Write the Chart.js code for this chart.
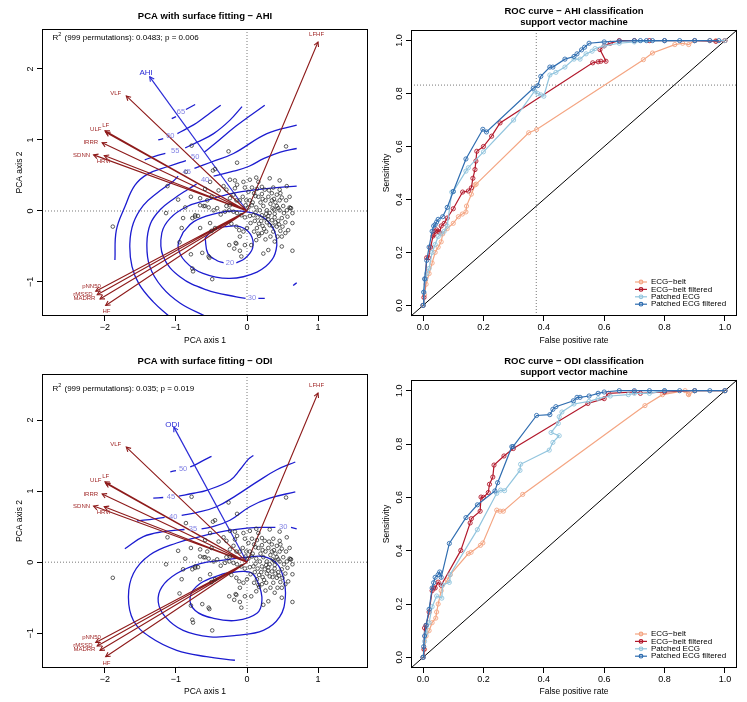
<!DOCTYPE html>
<html>
<head>
<meta charset="utf-8">
<title>PCA surface fitting and ROC curves</title>
<script src="https://cdn.jsdelivr.net/npm/chart.js@4.4.1/dist/chart.umd.min.js"></script>
<style>
  body { margin: 0; background: #fff; }
  .cell { position: absolute; }
  .cell canvas { display: block; }
</style>
</head>
<body>
<div class="cell" style="left:0;top:0"><canvas id="pcaAhi" width="373" height="351"></canvas></div>
<div class="cell" style="left:373px;top:0"><canvas id="rocAhi" width="374" height="351"></canvas></div>
<div class="cell" style="left:0;top:351px"><canvas id="pcaOdi" width="373" height="351"></canvas></div>
<div class="cell" style="left:373px;top:351px"><canvas id="rocOdi" width="374" height="351"></canvas></div>
<script>
const FONT = "'Liberation Sans', Arial, Helvetica, sans-serif";

// ---- PCA: site scores (same ordination in both panels) ----
const siteScores = [
  [-0.05,0.41],[-0.03,0.33],[0.02,0.27],[0.07,0.33],[0.10,0.25],[0.14,0.31],[0.16,0.20],[0.21,0.24],
  [0.25,0.30],[0.30,0.20],[0.35,0.25],[0.38,0.17],[0.42,0.23],[0.46,0.15],[0.49,0.19],[0.55,0.15],
  [0.60,0.05],[0.62,0.04],[0.56,0.01],[0.51,0.07],[0.46,0.01],[0.42,0.07],[0.36,0.04],[0.32,-0.03],
  [0.28,0.01],[0.23,0.07],[0.18,0.01],[0.13,0.05],[0.07,0.08],[0.04,0.15],[-0.01,0.15],[-0.06,0.20],
  [-0.10,0.15],[-0.15,0.15],[-0.19,0.23],[-0.24,0.18],[-0.29,0.07],[-0.25,0.01],[-0.19,-0.01],[-0.14,-0.03],
  [-0.08,-0.06],[-0.03,-0.09],[0.04,-0.07],[0.09,-0.06],[0.15,-0.09],[0.21,-0.06],[0.25,-0.10],[0.30,-0.07],
  [0.35,-0.13],[0.39,-0.09],[0.44,-0.14],[0.49,-0.10],[0.54,-0.16],[0.57,-0.08],[0.32,-0.20],[0.28,-0.16],
  [0.22,-0.21],[0.17,-0.18],[0.42,-0.22],[0.47,-0.28],[0.37,-0.29],[0.27,-0.29],[0.21,-0.31],[0.14,-0.24],
  [0.10,-0.29],[0.00,-0.24],[-0.05,-0.29],[-0.11,-0.27],[-0.15,-0.22],[-0.22,-0.18],[0.54,-0.31],[0.43,-0.36],
  [0.33,-0.36],[0.13,-0.41],[0.06,-0.48],[-0.03,-0.48],[-0.15,-0.46],[-0.10,-0.56],[-0.18,-0.53],[0.30,-0.55],
  [0.49,-0.50],[-0.24,0.08],[-0.31,-0.01],[-0.37,-0.05],[-0.42,0.04],[-0.47,0.01],[-0.59,0.07],[-0.69,-0.07],
  [-0.73,-0.06],[0.46,0.30],[0.56,0.35],[0.37,0.33],[0.21,0.34],[0.16,0.41],[0.04,0.44],[-0.14,0.37],
  [-0.17,0.32],[-0.29,0.30],[-0.33,0.35],[-0.40,0.29],[-0.50,0.20],[-0.56,0.15],[-0.66,0.18],
  [0.55,0.91],[-0.26,0.84],[-0.78,0.92],[-0.14,0.68],[-0.45,0.59],[-0.24,0.44],[-0.17,0.43],[0.13,0.47],
  [0.32,0.46],[0.46,0.43],[-0.52,0.41],[-1.12,0.35],[-0.97,0.16],[-0.79,0.20],[-0.59,0.31],[-1.14,-0.03],
  [-0.87,0.05],[-0.61,0.07],[-0.54,0.05],[-0.90,-0.10],[-0.77,-0.10],[-0.92,-0.24],[-0.52,-0.17],[-0.50,-0.28],
  [-0.95,-0.44],[-0.79,-0.61],[-0.63,-0.59],[-0.53,-0.66],[-0.77,-0.81],[-0.76,-0.85],[-0.49,-0.96],[-0.25,-0.48],
  [-0.10,-0.36],[-0.08,-0.64],[0.23,-0.60],[0.16,-0.32],[0.39,-0.43],[0.49,-0.36],[0.64,-0.56],[0.64,-0.17],
  [0.61,0.04],[-1.89,-0.22],[-0.66,0.08],[-0.73,-0.08],[-0.66,-0.24],[-0.45,-0.24],[-0.54,-0.64],[-0.16,-0.45],
  [-0.86,0.55],[-0.48,0.57],
  [0.08,0.12],[0.12,-0.02],[0.19,0.12],[0.26,0.15],[0.33,0.10],[0.40,0.12],[0.44,0.04],[0.52,-0.03],
  [0.39,-0.04],[0.27,-0.04],[0.20,-0.14],[0.30,-0.12],[0.45,-0.19],[0.36,-0.21],[0.50,-0.22],[0.58,-0.27],
  [0.11,-0.14],[0.05,-0.17],[0.02,0.05],[0.35,0.15],[0.22,0.17],[0.47,0.25],[0.60,0.20],[0.64,-0.03],
  [0.40,-0.16],[0.31,0.29],[0.12,0.21],[-0.02,0.08],[0.17,-0.35],[0.26,-0.40],[0.24,-0.25],[0.38,0.02]
];

// HRV variable vectors (envfit arrows)
const vectorNames = ['LFHF', 'VLF', 'LF', 'ULF', 'IRRR', 'SDNN', 'HRVi', 'pNN50', 'rMSSD', 'MADRR', 'HF'];
const vectorAxis1 = [1.00, -1.70, -2.00, -1.99, -2.04, -2.16, -2.01, -2.13, -2.11, -2.07, -1.99];
const vectorAxis2 = [2.38, 1.62, 1.13, 1.11, 0.96, 0.79, 0.78, -1.13, -1.18, -1.24, -1.33];
const vectorLabelAxis1 = [0.98, -1.85, -1.99, -2.13, -2.20, -2.33, -2.02, -2.19, -2.31, -2.29, -1.98];
const vectorLabelAxis2 = [2.49, 1.66, 1.21, 1.15, 0.96, 0.79, 0.70, -1.06, -1.17, -1.23, -1.42];

// fitted outcome direction and its label spot
const ahiVector = [-1.37, 1.89];
const ahiVectorLabel = [-1.42, 1.95];
const odiVector = [-1.03, 1.90];
const odiVectorLabel = [-1.05, 1.94];

// ordisurf contours (null = gap left for the level label)
const ahiContourLevels = ['65', '60', '55', '50', '45', '40', '30', '', '20', ''];
const ahiContourLabelAt = [[-0.93, 1.39], [-1.08, 1.05], [-1.01, 0.84], [-0.73, 0.76], [-0.85, 0.55],
  [-0.59, 0.44], [0.07, -1.23], null, [-0.24, -0.73], null];
const ahiContourPaths = [
  [[-1.06,1.30],[-1.00,1.33],null,[-0.86,1.43],[-0.73,1.50]],
  [[-1.25,1.00],[-1.18,1.02],null,[-0.98,1.09],[-0.85,1.16],[-0.71,1.24],[-0.52,1.38],[-0.37,1.49]],
  [[-1.44,0.72],[-1.30,0.77],[-1.15,0.81],null,[-0.87,0.89],[-0.70,0.97],[-0.47,1.09],[-0.24,1.28],[-0.07,1.47]],
  [[-1.86,-0.69],[-1.84,-0.27],[-1.72,0.06],[-1.58,0.36],[-1.40,0.52],[-1.10,0.63],[-0.86,0.71],null,
   [-0.60,0.83],[-0.45,0.95],[-0.15,1.20],[0.25,1.49]],
  [[-1.10,-1.48],[-1.32,-1.28],[-1.52,-1.03],[-1.62,-0.78],[-1.65,-0.46],[-1.60,-0.17],[-1.46,0.08],[-1.27,0.25],
   [-1.04,0.42],[-0.97,0.49],null,[-0.74,0.60],[-0.50,0.69],[-0.19,0.81],[0.28,1.09],[0.70,1.21]],
  [[-0.59,-1.48],[-0.94,-1.30],[-1.20,-1.07],[-1.37,-0.78],[-1.41,-0.46],[-1.36,-0.18],[-1.22,0.02],[-1.02,0.18],
   [-0.84,0.30],[-0.71,0.38],null,[-0.47,0.49],[-0.19,0.56],[0.03,0.63],[0.24,0.74],[0.47,0.83],[0.70,0.88]],
  [[0.25,-1.23],[0.16,-1.23],null,[-0.02,-1.23],[-0.15,-1.21],[-0.57,-1.11],[-0.94,-0.93],[-1.18,-0.64],
   [-1.20,-0.31],[-1.08,-0.10],[-0.85,0.06],[-0.57,0.15],[-0.19,0.25],[0.14,0.30],[0.42,0.33],[0.70,0.35]],
  [[-0.90,-0.30],[-0.97,-0.50],[-0.87,-0.71],[-0.62,-0.88],[-0.24,-0.95],[0.14,-0.86],[0.35,-0.69],[0.42,-0.48],
   [0.39,-0.29],[0.28,-0.13],[0.09,-0.03],[-0.20,0.00],[-0.50,-0.05],[-0.75,-0.15],[-0.90,-0.30]],
  [[-0.59,-0.38],[-0.55,-0.60],[-0.42,-0.70],[-0.33,-0.73],null,[-0.15,-0.73],[-0.03,-0.67],[0.08,-0.52],
   [0.05,-0.33],[-0.10,-0.22],[-0.30,-0.22],[-0.48,-0.27],[-0.59,-0.38]],
  [[0.65,-1.05],[0.70,-1.01]]
];

const odiContourLevels = ['50', '45', '40', '35', '30', '', '', ''];
const odiContourLabelAt = [[-0.90, 1.31], [-1.07, 0.92], [-1.04, 0.64], [-0.76, 0.47], [0.51, 0.50], null, null, null];
const odiContourPaths = [
  [[-1.08,1.27],[-1.00,1.29],null,[-0.80,1.34],[-0.73,1.37],[-0.60,1.44],[-0.50,1.49]],
  [[-1.32,0.90],[-1.18,0.91],null,[-0.96,0.93],[-0.75,0.97],[-0.57,1.01],[-0.24,1.15],[-0.10,1.30],[0.02,1.45],[0.09,1.50]],
  [[-1.55,0.58],[-1.30,0.61],[-1.16,0.63],null,[-0.92,0.66],[-0.70,0.70],[-0.43,0.78],[-0.15,0.94],[0.14,1.13],
   [0.42,1.30],[0.68,1.41]],
  [[-1.72,0.19],[-1.46,0.36],[-1.18,0.43],[-0.88,0.46],null,[-0.64,0.47],[-0.52,0.49],[-0.24,0.59],[0.04,0.78],
   [0.32,0.90],[0.68,0.99]],
  [[0.70,0.47],[0.62,0.49],null,[0.40,0.49],[0.30,0.49],[0.00,0.48],[-0.30,0.44],[-0.66,0.36],[-0.99,0.27],
   [-1.37,0.10],[-1.60,-0.16],[-1.67,-0.49],[-1.60,-0.82],[-1.37,-1.05],[-0.99,-1.24],[-0.57,-1.33],[-0.17,-1.38]],
  [[-0.33,0.03],[-0.66,-0.02],[-0.99,-0.16],[-1.20,-0.35],[-1.25,-0.56],[-1.15,-0.77],[-0.90,-0.96],[-0.52,-1.05],
   [-0.15,-1.03],[0.23,-0.96],[0.46,-0.77],[0.54,-0.49],[0.51,-0.21],[0.42,-0.02],[0.23,0.08],[0.00,0.07],[-0.33,0.03]],
  [[-0.33,-0.16],[-0.66,-0.30],[-0.80,-0.49],[-0.73,-0.68],[-0.47,-0.79],[-0.15,-0.82],[0.14,-0.72],[0.21,-0.54],
   [0.16,-0.30],[0.04,-0.14],[-0.33,-0.16]],
  [[-1.00,-1.49],[-0.95,-1.48]]
];

const pcaTicks = [-2, -1, 0, 1, 2];

// ---- ROC curves ----
const rocTicks = [0, 0.2, 0.4, 0.6, 0.8, 1];
const rocLabels = ['ECG\u2212belt', 'ECG\u2212belt filtered', 'Patched ECG', 'Patched ECG filtered'];
const rocColors = ['#F4A582', '#B2182B', '#92C5DE', '#2F6DB0'];

// AHI classification
const ahiBeltFpr = [0,0.005,0.01,0.02,0.03,0.04,0.05,0.06,0.065,0.08,0.1,0.117,0.13,0.142,0.144,0.16,0.172,0.176,0.35,0.376,0.73,0.76,0.834,0.86,0.88,0.9,0.95,0.97,1];
const ahiBeltTpr = [0,0.04,0.08,0.12,0.16,0.2,0.22,0.24,0.27,0.29,0.31,0.335,0.345,0.353,0.375,0.42,0.455,0.458,0.652,0.664,0.928,0.953,0.985,0.99,0.985,1,1,1,1];
const ahiBeltFiltFpr = [0,0.003,0.008,0.012,0.018,0.025,0.033,0.036,0.04,0.045,0.05,0.055,0.06,0.07,0.08,0.1,0.131,0.15,0.16,0.165,0.172,0.175,0.178,0.2,0.227,0.255,0.562,0.58,0.589,0.606,0.586,0.6,0.62,0.65,0.7,0.75,0.8,0.9,0.97,1];
const ahiBeltFiltTpr = [0,0.03,0.1,0.18,0.18,0.22,0.262,0.268,0.28,0.285,0.28,0.275,0.3,0.31,0.33,0.365,0.428,0.432,0.444,0.48,0.513,0.545,0.582,0.6,0.639,0.689,0.916,0.92,0.922,0.922,0.966,0.98,0.99,1,1,1,1,1,0.997,1];
const ahiPatchFpr = [0,0.003,0.008,0.012,0.02,0.03,0.04,0.05,0.06,0.07,0.08,0.095,0.1,0.142,0.15,0.2,0.3,0.37,0.38,0.39,0.4,0.42,0.44,0.47,0.5,0.52,0.54,0.56,0.57,0.6,0.65,0.7,0.8,0.9,1];
const ahiPatchTpr = [0,0.05,0.1,0.12,0.14,0.2,0.23,0.26,0.27,0.28,0.3,0.428,0.43,0.507,0.52,0.58,0.7,0.81,0.8,0.795,0.79,0.87,0.88,0.9,0.93,0.93,0.95,0.96,0.97,0.98,0.99,0.995,1,1,1];
const ahiPatchFiltFpr = [0,0.002,0.005,0.012,0.02,0.03,0.035,0.04,0.045,0.05,0.065,0.08,0.1,0.142,0.198,0.21,0.365,0.38,0.39,0.42,0.43,0.47,0.5,0.51,0.525,0.535,0.55,0.6,0.65,0.7,0.72,0.74,0.76,0.8,0.85,0.9,0.95,0.98];
const ahiPatchFiltTpr = [0,0.05,0.1,0.17,0.22,0.28,0.3,0.305,0.315,0.325,0.335,0.37,0.43,0.553,0.665,0.655,0.82,0.83,0.865,0.9,0.9,0.93,0.94,0.95,0.965,0.975,0.99,0.995,0.998,1,1,1,1,1,1,1,1,1];
const ahiCutoff = [0.375, 0.832]; // chosen operating point (fpr, sensitivity)

// ODI classification
const odiBeltFpr = [0,0.005,0.01,0.02,0.03,0.042,0.045,0.05,0.06,0.08,0.09,0.15,0.159,0.19,0.198,0.244,0.255,0.266,0.33,0.735,0.793,0.868,0.879,0.88,0.9,1];
const odiBeltTpr = [0,0.03,0.08,0.1,0.13,0.147,0.17,0.2,0.25,0.29,0.31,0.389,0.394,0.42,0.429,0.552,0.548,0.548,0.611,0.944,0.985,1,0.987,0.985,1,1];
const odiBeltFiltFpr = [0,0.003,0.005,0.01,0.02,0.03,0.035,0.04,0.05,0.06,0.125,0.156,0.16,0.189,0.192,0.2,0.216,0.22,0.231,0.235,0.268,0.299,0.546,0.6,0.614,0.7,0.72,0.8,0.9,1];
const odiBeltFiltTpr = [0,0.03,0.11,0.12,0.17,0.25,0.26,0.26,0.282,0.27,0.401,0.504,0.52,0.548,0.601,0.6,0.618,0.649,0.676,0.721,0.755,0.783,0.952,0.97,0.99,0.995,0.99,0.995,1,1];
const odiPatchFpr = [0,0.005,0.01,0.02,0.03,0.045,0.062,0.065,0.087,0.089,0.18,0.244,0.257,0.27,0.321,0.323,0.418,0.43,0.451,0.424,0.448,0.451,0.46,0.5,0.55,0.58,0.62,0.68,0.7,0.75,0.8,0.9,1];
const odiPatchTpr = [0,0.06,0.09,0.13,0.19,0.23,0.222,0.272,0.281,0.31,0.479,0.615,0.627,0.625,0.701,0.724,0.777,0.806,0.831,0.843,0.877,0.902,0.92,0.95,0.96,0.97,0.98,0.985,0.99,0.99,1,1,1];
const odiPatchFiltFpr = [0,0.002,0.005,0.01,0.02,0.03,0.035,0.04,0.05,0.055,0.06,0.087,0.142,0.18,0.238,0.247,0.294,0.298,0.376,0.42,0.43,0.44,0.498,0.51,0.52,0.55,0.58,0.6,0.65,0.7,0.75,0.8,0.85,0.9,0.95,1];
const odiPatchFiltTpr = [0,0.04,0.08,0.12,0.18,0.26,0.28,0.3,0.31,0.32,0.3,0.427,0.524,0.572,0.624,0.655,0.79,0.79,0.907,0.91,0.93,0.94,0.962,0.975,0.975,0.98,0.99,0.995,1,1,1,1,1,1,1,1];

Chart.defaults.font.family = FONT;
Chart.defaults.color = '#000';

const toPoint = p => (p ? { x: p[0], y: p[1] } : { x: NaN, y: NaN });
const minusFmt = v => (v < 0 ? '\u2212' + Math.abs(v) : String(v));

function strokeLine(ctx, x1, y1, x2, y2) {
  ctx.beginPath(); ctx.moveTo(x1, y1); ctx.lineTo(x2, y2); ctx.stroke();
}

function drawFrame(ctx, a) {
  ctx.save();
  ctx.strokeStyle = '#000'; ctx.lineWidth = 1; ctx.setLineDash([]);
  ctx.strokeRect(Math.round(a.left) + 0.5, Math.round(a.top) + 0.5,
    Math.round(a.right - a.left) - 1, Math.round(a.bottom - a.top) - 1);
  ctx.restore();
}

function arrowHead(ctx, x0, y0, x1, y1) {
  const ang = Math.atan2(y1 - y0, x1 - x0), len = 5, spread = 0.5;
  ctx.beginPath();
  ctx.moveTo(x1 - len * Math.cos(ang - spread), y1 - len * Math.sin(ang - spread));
  ctx.lineTo(x1, y1);
  ctx.lineTo(x1 - len * Math.cos(ang + spread), y1 - len * Math.sin(ang + spread));
  ctx.stroke();
}

// axis builder: fixed sizes so the plot box lands where R put it
function makeAxis(o) {
  return {
    type: 'linear', min: o.min, max: o.max,
    afterBuildTicks: s => { s.ticks = o.ticks.filter(v => v >= o.min && v <= o.max).map(v => ({ value: v })); },
    afterFit: s => { if (o.axis === 'x') s.height = o.size; else s.width = o.size; },
    grid: { drawOnChartArea: false, drawTicks: true, tickLength: 5, color: '#000', lineWidth: 1 },
    border: { display: false },
    ticks: {
      autoSkip: false, color: '#000', font: { size: 9 }, padding: o.tickPad,
      minRotation: o.axis === 'y' ? 90 : 0, maxRotation: o.axis === 'y' ? 90 : 0,
      crossAlign: o.axis === 'y' ? 'center' : 'near',
      callback: o.format
    },
    title: {
      display: true, text: o.title, color: '#000', font: { size: 8.5 },
      padding: o.axis === 'y' ? { top: o.titlePad, bottom: 0 } : { top: 0, bottom: o.titlePad }
    }
  };
}

function pcaDecor(cfg) {
  return {
    id: 'pcaDecor',
    beforeDatasetsDraw(chart) {
      const { ctx, chartArea: a, scales: { x, y } } = chart;
      ctx.save();
      ctx.strokeStyle = '#555'; ctx.lineWidth = 0.8; ctx.setLineDash([1, 2]);
      const x0 = x.getPixelForValue(0), y0 = y.getPixelForValue(0);
      strokeLine(ctx, x0, a.top, x0, a.bottom);
      strokeLine(ctx, a.left, y0, a.right, y0);
      ctx.restore();
    },
    afterDatasetsDraw(chart) {
      const { ctx, chartArea: a, scales: { x, y } } = chart;
      const ox = x.getPixelForValue(0), oy = y.getPixelForValue(0);
      ctx.save();
      // arrow heads
      ctx.lineWidth = 1.1; ctx.strokeStyle = '#8E1B1B';
      vectorAxis1.forEach((v, i) => arrowHead(ctx, ox, oy, x.getPixelForValue(v), y.getPixelForValue(vectorAxis2[i])));
      ctx.strokeStyle = '#2B2BD6';
      arrowHead(ctx, ox, oy, x.getPixelForValue(cfg.fitted[0]), y.getPixelForValue(cfg.fitted[1]));
      // vector names
      ctx.textAlign = 'center'; ctx.textBaseline = 'middle';
      ctx.font = `6px ${FONT}`; ctx.fillStyle = '#A02828';
      vectorNames.forEach((n, i) => ctx.fillText(n, x.getPixelForValue(vectorLabelAxis1[i]), y.getPixelForValue(vectorLabelAxis2[i])));
      ctx.font = `8px ${FONT}`; ctx.fillStyle = '#2B2BD6';
      ctx.fillText(cfg.fittedName, x.getPixelForValue(cfg.fittedLabel[0]), y.getPixelForValue(cfg.fittedLabel[1]));
      // contour levels
      ctx.font = `7.5px ${FONT}`; ctx.fillStyle = '#8282E4';
      cfg.levels.forEach((lv, i) => {
        const p = cfg.labelAt[i];
        if (lv && p) ctx.fillText(lv, x.getPixelForValue(p[0]), y.getPixelForValue(p[1]));
      });
      // R2 annotation
      ctx.fillStyle = '#000'; ctx.textAlign = 'left';
      let tx = x.getPixelForValue(-2.74);
      const ty = y.getPixelForValue(2.44);
      ctx.font = `8px ${FONT}`;
      ctx.fillText('R', tx, ty); tx += ctx.measureText('R').width;
      ctx.font = `5.5px ${FONT}`;
      ctx.fillText('2', tx, ty - 3); tx += ctx.measureText('2').width + 1;
      ctx.font = `8px ${FONT}`;
      ctx.fillText(cfg.r2, tx, ty);
      ctx.restore();
      drawFrame(ctx, a);
    },
    afterDraw(chart) {
      const { ctx, chartArea: a } = chart;
      ctx.save();
      ctx.font = `bold 9.5px ${FONT}`; ctx.fillStyle = '#000';
      ctx.textAlign = 'center'; ctx.textBaseline = 'middle';
      ctx.fillText(cfg.title, (a.left + a.right) / 2, a.top - 13);
      ctx.restore();
    }
  };
}

function pcaChart(id, cfg) {
  const datasets = [];
  datasets.push({
    label: 'Sites', data: siteScores.map(toPoint), showLine: false, order: 0,
    pointRadius: 1.8, pointBorderWidth: 0.75, pointBorderColor: '#2a2a2a', pointBackgroundColor: 'rgba(0,0,0,0)'
  });
  const vec = [];
  vectorAxis1.forEach((v, i) => { vec.push({ x: 0, y: 0 }, { x: v, y: vectorAxis2[i] }, { x: NaN, y: NaN }); });
  datasets.push({ label: 'HRV vectors', data: vec, showLine: true, order: 1, pointRadius: 0, borderColor: '#8E1B1B', borderWidth: 1.1 });
  datasets.push({
    label: cfg.fittedName, data: [{ x: 0, y: 0 }, toPoint(cfg.fitted)], showLine: true, order: 1,
    pointRadius: 0, borderColor: '#2B2BD6', borderWidth: 1.2
  });
  cfg.paths.forEach((path, i) => {
    datasets.push({
      label: 'contour ' + (cfg.levels[i] || i), data: path.map(toPoint), showLine: true, order: 2,
      pointRadius: 0, borderColor: '#1C1CD0', borderWidth: 1.3, tension: 0.4, spanGaps: false
    });
  });
  return new Chart(document.getElementById(id), {
    type: 'scatter',
    data: { datasets },
    options: {
      responsive: false, animation: false, events: [],
      layout: { padding: { top: cfg.top, right: 5, bottom: 0, left: 0 } },
      plugins: { legend: { display: false }, tooltip: { enabled: false } },
      scales: {
        x: makeAxis({ axis: 'x', min: -2.887, max: 1.704, ticks: pcaTicks, size: cfg.xSize, tickPad: 1, format: minusFmt, title: 'PCA axis 1', titlePad: 5 }),
        y: makeAxis({ axis: 'y', min: cfg.ymin, max: cfg.ymax, ticks: pcaTicks, size: 42, tickPad: 1, format: minusFmt, title: 'PCA axis 2', titlePad: 14.5 })
      }
    },
    plugins: [pcaDecor(cfg)]
  });
}

function rocDecor(cfg) {
  return {
    id: 'rocDecor',
    beforeDatasetsDraw(chart) {
      const { ctx, chartArea: a, scales: { x, y } } = chart;
      ctx.save();
      ctx.strokeStyle = '#000'; ctx.lineWidth = 1;
      strokeLine(ctx, x.getPixelForValue(x.min), y.getPixelForValue(y.min), x.getPixelForValue(x.max), y.getPixelForValue(y.max));
      if (cfg.cutoff) {
        ctx.strokeStyle = '#555'; ctx.lineWidth = 0.8; ctx.setLineDash([1, 2]);
        const cx = x.getPixelForValue(cfg.cutoff[0]), cy = y.getPixelForValue(cfg.cutoff[1]);
        strokeLine(ctx, cx, a.top, cx, a.bottom);
        strokeLine(ctx, a.left, cy, a.right, cy);
      }
      ctx.restore();
    },
    afterDatasetsDraw(chart) {
      const { ctx, chartArea: a } = chart;
      ctx.save();
      const lx = a.right - 96, top = a.bottom - 34;
      ctx.font = `8px ${FONT}`; ctx.textAlign = 'left'; ctx.textBaseline = 'middle';
      rocLabels.forEach((lab, i) => {
        const yy = top + i * 7.4;
        ctx.strokeStyle = rocColors[i]; ctx.lineWidth = 1.2;
        strokeLine(ctx, lx - 6, yy, lx + 6, yy);
        ctx.beginPath(); ctx.arc(lx, yy, 1.8, 0, Math.PI * 2); ctx.stroke();
        ctx.fillStyle = '#000';
        ctx.fillText(lab, lx + 10, yy);
      });
      ctx.restore();
      drawFrame(ctx, a);
    },
    afterDraw(chart) {
      const { ctx, chartArea: a } = chart;
      ctx.save();
      ctx.font = `bold 9.5px ${FONT}`; ctx.fillStyle = '#000';
      ctx.textAlign = 'center'; ctx.textBaseline = 'middle';
      const cx = (a.left + a.right) / 2;
      ctx.fillText(cfg.title[0], cx, a.top - 19);
      ctx.fillText(cfg.title[1], cx, a.top - 7.5);
      ctx.restore();
    }
  };
}

function rocChart(id, cfg) {
  const datasets = cfg.series.map((s, i) => ({
    label: rocLabels[i], data: s[0].map((v, j) => ({ x: v, y: s[1][j] })),
    showLine: true, order: 4 - i, tension: 0,
    borderColor: rocColors[i], borderWidth: 1.2,
    pointRadius: 2.1, pointBorderWidth: 0.9, pointBorderColor: rocColors[i], pointBackgroundColor: 'rgba(0,0,0,0)'
  }));
  return new Chart(document.getElementById(id), {
    type: 'scatter',
    data: { datasets },
    options: {
      responsive: false, animation: false, events: [],
      layout: { padding: { top: cfg.top, right: 10, bottom: 0, left: 0 } },
      plugins: { legend: { display: false }, tooltip: { enabled: false } },
      scales: {
        x: makeAxis({ axis: 'x', min: -0.04, max: 1.04, ticks: rocTicks, size: cfg.xSize, tickPad: 1, format: v => v.toFixed(1), title: 'False positive rate', titlePad: 5 }),
        y: makeAxis({ axis: 'y', min: -0.04, max: 1.04, ticks: rocTicks, size: 38, tickPad: 0, format: v => v.toFixed(1), title: 'Sensitivity', titlePad: 8.5 })
      }
    },
    plugins: [rocDecor(cfg)]
  });
}

pcaChart('pcaAhi', {
  title: 'PCA with surface fitting \u2212 AHI', r2: ' (999 permutations): 0.0483; p = 0.006',
  fitted: ahiVector, fittedLabel: ahiVectorLabel, fittedName: 'AHI',
  paths: ahiContourPaths, levels: ahiContourLevels, labelAt: ahiContourLabelAt,
  top: 29, xSize: 35, ymin: -1.479, ymax: 2.563
});
pcaChart('pcaOdi', {
  title: 'PCA with surface fitting \u2212 ODI', r2: ' (999 permutations): 0.035; p = 0.019',
  fitted: odiVector, fittedLabel: odiVectorLabel, fittedName: 'ODI',
  paths: odiContourPaths, levels: odiContourLevels, labelAt: odiContourLabelAt,
  top: 23, xSize: 34, ymin: -1.489, ymax: 2.648
});
rocChart('rocAhi', {
  title: ['ROC curve \u2212 AHI classification', 'support vector machine'],
  series: [[ahiBeltFpr, ahiBeltTpr], [ahiBeltFiltFpr, ahiBeltFiltTpr], [ahiPatchFpr, ahiPatchTpr], [ahiPatchFiltFpr, ahiPatchFiltTpr]],
  cutoff: ahiCutoff, top: 30, xSize: 35
});
rocChart('rocOdi', {
  title: ['ROC curve \u2212 ODI classification', 'support vector machine'],
  series: [[odiBeltFpr, odiBeltTpr], [odiBeltFiltFpr, odiBeltFiltTpr], [odiPatchFpr, odiPatchTpr], [odiPatchFiltFpr, odiPatchFiltTpr]],
  cutoff: null, top: 29, xSize: 34
});
</script>
</body>
</html>
